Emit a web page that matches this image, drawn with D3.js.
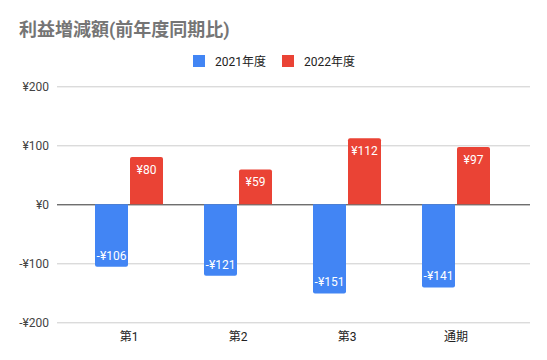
<!DOCTYPE html>
<html><head><meta charset="utf-8">
<script src="https://cdn.jsdelivr.net/npm/d3@7"></script>
<style>body{margin:0;background:#fff}svg{display:block}</style>
</head><body>
<script>
const categories = ["第1", "第2", "第3", "通期"];
const seriesNames = ["2021年度", "2022年度"];
const values2021 = [-106, -121, -151, -141];
const values2022 = [80, 59, 112, 97];
const yTicks = [-200, -100, 0, 100, 200];
const colors = ["#4285f4", "#ea4335"];
const titleText = "利益増減額(前年度同期比)";

const W = 547, H = 360;
const font = "Roboto, 'Noto Sans CJK JP', sans-serif";
const svg = d3.select("body").append("svg").attr("width", W).attr("height", H);

const y = d3.scaleLinear().domain([-200, 200]).range([322.3, 86.3]);
const x0 = d3.scaleBand().domain(categories).range([74.5, 510.5]).paddingInner(0.395).paddingOuter(0.2);
const x0b = d3.scaleBand().domain(categories).range([74.5, 510.5]);
const x1 = d3.scaleBand().domain(seriesNames).range([0, 68]).paddingInner(0.03);

const gridL = 57, gridR = 530;
const fmt = v => (v < 0 ? "-¥" : "¥") + Math.abs(v);

// title
svg.append("text").attr("x", 19).attr("y", 36).text(titleText)
  .attr("font-family", font).attr("font-size", 18).attr("font-weight", "bold").attr("fill", "#757575");

// legend
const legend = svg.append("g");
const legX = [193, 282];
seriesNames.forEach((s, i) => {
  legend.append("rect").attr("x", legX[i]).attr("y", 55).attr("width", 12).attr("height", 12).attr("fill", colors[i]);
  legend.append("text").attr("x", legX[i] + 22).attr("y", 65.5).text(s)
    .attr("font-family", font).attr("font-size", 12).attr("fill", "#222");
});

// gridlines
const yAxis = d3.axisLeft(y).tickValues(yTicks).tickSize(-(gridR - gridL)).tickFormat(fmt);
const ga = svg.append("g").attr("transform", `translate(${gridL},0)`).call(yAxis);
ga.select(".domain").remove();
ga.selectAll(".tick line").attr("stroke", d => d === 0 ? "#333" : "#ccc").attr("stroke-width", 1);
ga.selectAll(".tick text").attr("x", -8).attr("font-family", font).attr("font-size", 12).attr("fill", "#444");

// bars
const data = categories.map((c, i) => ({ c, vals: [values2021[i], values2022[i]] }));
const barW = 33, gap = 2;
const groups = svg.append("g").selectAll("g").data(data).join("g")
  .attr("transform", d => `translate(${x0b(d.c) + x0b.bandwidth() / 2 - barW - gap / 2},0)`);

groups.each(function(d) {
  const g = d3.select(this);
  d.vals.forEach((v, i) => {
    const bx = i * (barW + gap);
    const top = y(Math.max(0, v)), bot = y(Math.min(0, v));
    const h = bot - top, r = 2;
    let path;
    if (v >= 0) {
      path = `M${bx},${bot} V${top + r} Q${bx},${top} ${bx + r},${top} H${bx + barW - r} Q${bx + barW},${top} ${bx + barW},${top + r} V${bot} Z`;
    } else {
      path = `M${bx},${top} V${bot - r} Q${bx},${bot} ${bx + r},${bot} H${bx + barW - r} Q${bx + barW},${bot} ${bx + barW},${bot - r} V${top} Z`;
    }
    g.append("path").attr("d", path).attr("fill", colors[i]);
    g.append("text").attr("x", bx + barW / 2)
      .attr("y", v >= 0 ? top + 17 : bot - 7)
      .attr("text-anchor", "middle").text(fmt(v))
      .attr("font-family", font).attr("font-size", 12).attr("fill", "#fff");
  });
});

// x labels
const xAxis = d3.axisBottom(x0b).tickSize(0);
const xa = svg.append("g").attr("transform", `translate(0,322.3)`).call(xAxis);
xa.select(".domain").remove();
xa.selectAll(".tick text").attr("y", 10).attr("dy", "0.71em").attr("font-family", font).attr("font-size", 12).attr("fill", "#222");
</script>
</body></html>
